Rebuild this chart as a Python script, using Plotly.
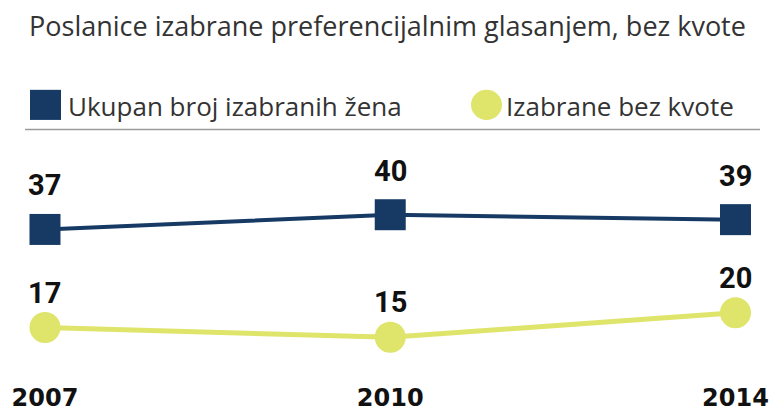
import plotly.graph_objects as go

# ---- data ----
years = ["2007", "2010", "2014"]
ukupno = [37, 40, 39]
bez_kvote = [17, 15, 20]
series_names = ["Ukupan broj izabranih žena", "Izabrane bez kvote"]
title_text = "Poslanice izabrane preferencijalnim glasanjem, bez kvote"

NAVY = "#163a64"
YELLOW = "#dfe46b"
TXT = "#333333"

W, H = 775, 412
L, R, T, B = 0, 0, 150, 42
pw, ph = W - L - R, H - T - B

def px_x(p):
    return (p - L) / pw

def px_y(p):
    return (H - B - p) / ph

fig = go.Figure()
fig.add_trace(go.Scatter(x=years, y=ukupno, mode="lines+markers", name=series_names[0],
                         line=dict(color=NAVY, width=4),
                         marker=dict(symbol="square", size=31, color=NAVY),
                         showlegend=False, hoverinfo="skip"))
fig.add_trace(go.Scatter(x=years, y=bez_kvote, mode="lines+markers", name=series_names[1],
                         line=dict(color=YELLOW, width=5),
                         marker=dict(symbol="circle", size=31, color=YELLOW),
                         showlegend=False, hoverinfo="skip"))

annotations = []
for vals, shift in ((ukupno, 44), (bez_kvote, 35)):
    for i, v in enumerate(vals):
        annotations.append(dict(x=i, y=v, xref="x", yref="y", text=str(v), showarrow=False,
                                yshift=shift, yanchor="middle",
                                font=dict(family="Roboto", size=29, color="#111111", weight=700)))

# custom legend
shapes = [
    dict(type="rect", xref="paper", yref="paper", x0=px_x(30), x1=px_x(61), y0=px_y(119.5), y1=px_y(89),
         fillcolor=NAVY, line=dict(width=0)),
    dict(type="circle", xref="paper", yref="paper", x0=px_x(471), x1=px_x(502), y0=px_y(119.5), y1=px_y(89),
         fillcolor=YELLOW, line=dict(width=0)),
    dict(type="line", xref="paper", yref="paper", x0=px_x(25), x1=px_x(760), y0=px_y(129.3), y1=px_y(129.3),
         line=dict(color="#9a9a9a", width=1.5)),
]
annotations.append(dict(x=px_x(66), y=px_y(105), xref="paper", yref="paper", text=series_names[0],
                        showarrow=False, xanchor="left", yanchor="middle",
                        font=dict(family="Open Sans", size=26, color=TXT)))
annotations.append(dict(x=px_x(504), y=px_y(105), xref="paper", yref="paper", text=series_names[1],
                        showarrow=False, xanchor="left", yanchor="middle",
                        font=dict(family="Open Sans", size=26, color=TXT)))

fig.update_layout(
    width=W, height=H,
    margin=dict(l=L, r=R, t=T, b=B, pad=0),
    paper_bgcolor="white", plot_bgcolor="white",
    title=dict(text=title_text, x=0.5, xanchor="center", y=1 - 27 / H, yanchor="middle",
               yref="container", font=dict(family="Open Sans", size=27, color=TXT)),
    xaxis=dict(type="category", range=[-0.1303, 2.1144], showgrid=False, zeroline=False,
               showline=False, ticks="", ticklabelstandoff=14,
               tickfont=dict(family="DejaVu Sans", size=24, color="#111111", weight=700)),
    yaxis=dict(range=[8.95, 53.2], visible=False, showgrid=False, zeroline=False),
    shapes=shapes, annotations=annotations,
)

fig.write_html("out.html", config={"displayModeBar": False},
               post_script="document.body.style.margin='0';document.body.style.overflow='hidden';")
